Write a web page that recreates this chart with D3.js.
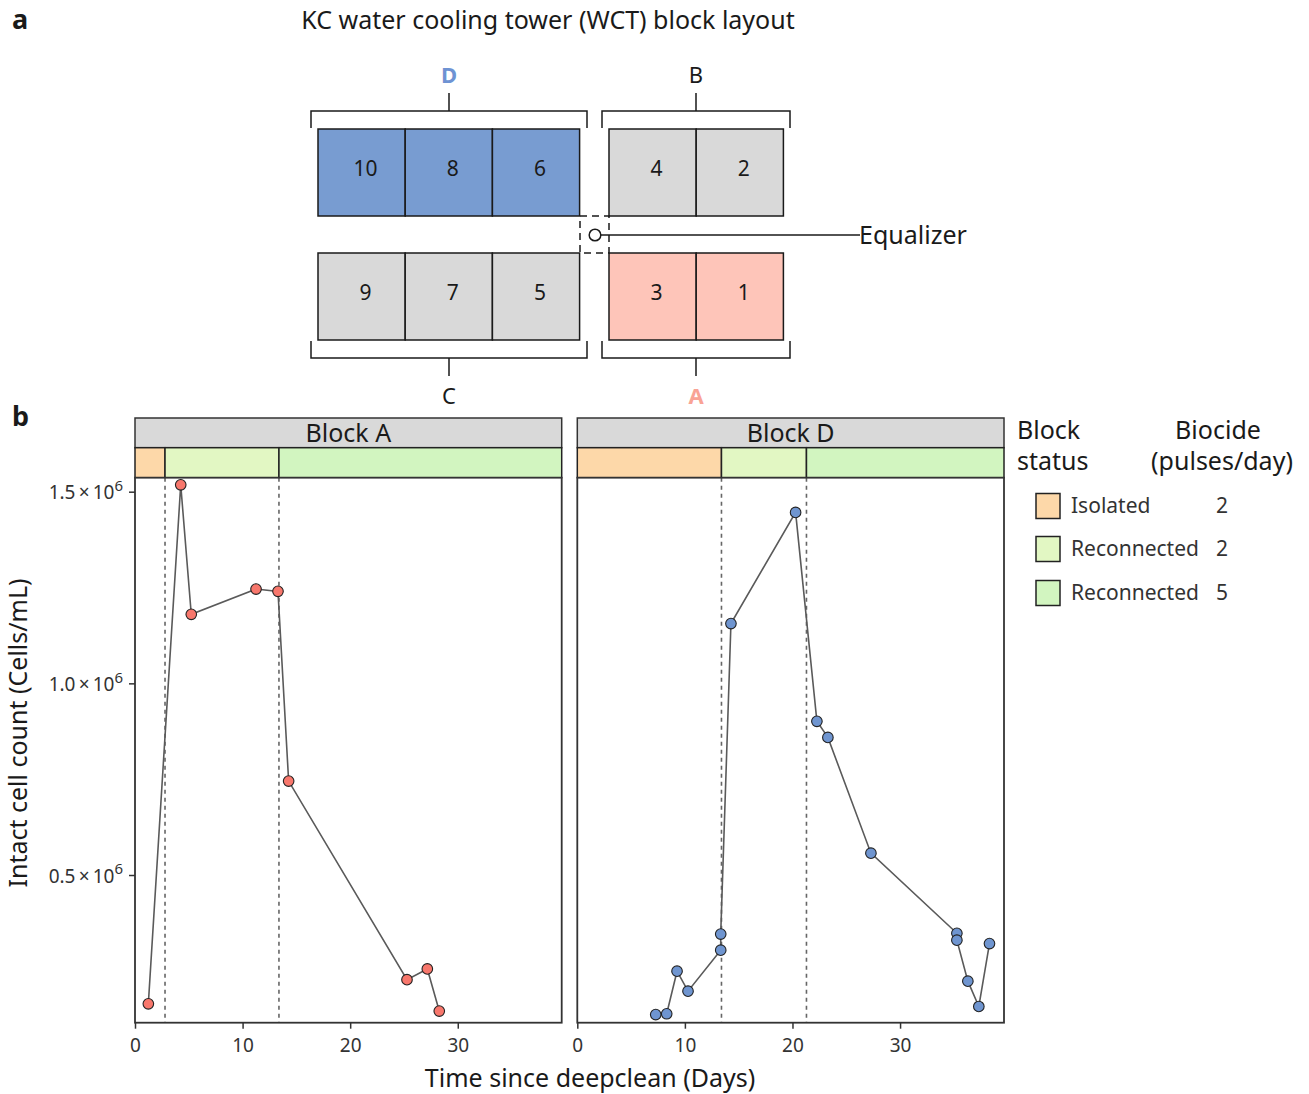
<!DOCTYPE html>
<html>
<head>
<meta charset="utf-8">
<script src="https://cdn.jsdelivr.net/npm/d3@7"></script>
<style>
  html, body { margin: 0; padding: 0; background: #fff; }
  svg { display: block; font-family: "Noto Sans", "Liberation Sans", Arial, sans-serif; }
</style>
</head>
<body>
<svg id="chart" width="1309" height="1094"></svg>
<script>
// ---------------- DATA ----------------
const topBlockD = ["10", "8", "6"];
const topBlockB = ["4", "2"];
const bottomBlockC = ["9", "7", "5"];
const bottomBlockA = ["3", "1"];

const panels = ["Block A", "Block D"];

const dayA   = [1.24, 4.25, 5.23, 11.25, 13.29, 14.28, 25.28, 27.17, 28.28];
const cellsA = [164000, 1518000, 1180000, 1246000, 1240000, 745000, 227000, 255000, 145000];

const dayD   = [7.29, 8.31, 9.27, 10.29, 13.33, 13.33, 14.28, 20.29, 22.27, 23.29, 27.29, 35.28, 35.28, 36.30, 37.32, 38.31];
const cellsD = [136000, 138000, 249000, 197000, 304000, 346000, 1156000, 1446000, 901000, 859000, 557000, 348000, 330000, 223000, 157000, 321000];

const breaksA = [2.79, 13.38];
const breaksD = [13.40, 21.30];

const statusLabels = ["Isolated", "Reconnected", "Reconnected"];
const biocidePulses = ["2", "2", "5"];
const statusColors = ["#FDD8A9", "#E2F7C3", "#D2F5C0"];

const xTicks = [0, 10, 20, 30];
const yTicks = [500000, 1000000, 1500000];
const yTickLabels = ["0.5", "1.0", "1.5"];

// ---------------- SETUP ----------------
const FONT = "'Noto Sans', 'Liberation Sans', Arial, sans-serif";
const svg = d3.select("#chart");
const ink = "#1a1a1a";

// ---------------- PART a: layout ----------------
svg.append("text").attr("x", 12).attr("y", 29).attr("font-size", 27).attr("font-weight", "bold")
  .attr("fill", ink).text("a");
svg.append("text").attr("x", 548).attr("y", 29).attr("text-anchor", "middle").attr("font-size", 25)
  .attr("fill", ink).text("KC water cooling tower (WCT) block layout");

const cellW = 87.2, cellH = 87;
function drawBlock(labels, x0, y0, fill) {
  const g = svg.append("g");
  g.selectAll("rect").data(labels).join("rect")
    .attr("x", (d, i) => x0 + i * cellW).attr("y", y0)
    .attr("width", cellW).attr("height", cellH)
    .attr("fill", fill).attr("stroke", ink).attr("stroke-width", 1.5);
  g.selectAll("text").data(labels).join("text")
    .attr("x", (d, i) => x0 + i * cellW + cellW / 2 + 4).attr("y", y0 + cellH / 2 + 3)
    .attr("text-anchor", "middle").attr("font-size", 21).attr("fill", ink).text(d => d);
}
drawBlock(topBlockD, 318, 129, "#789CD1");
drawBlock(topBlockB, 609, 129, "#D9D9D9");
drawBlock(bottomBlockC, 318, 253, "#D9D9D9");
drawBlock(bottomBlockA, 609, 253, "#FEC5B9");

function bracket(x1, x2, yLine, yEnd, yStem) {
  const xm = (x1 + x2) / 2;
  svg.append("path")
    .attr("d", `M${x1},${yEnd}V${yLine}H${x2}V${yEnd}M${xm},${yLine}V${yStem}`)
    .attr("fill", "none").attr("stroke", ink).attr("stroke-width", 1.5);
}
bracket(311, 587, 111, 128, 93);
bracket(602, 790, 111, 128, 93);
bracket(311, 587, 358, 341, 376);
bracket(602, 790, 358, 341, 376);

svg.append("text").attr("x", 449).attr("y", 83).attr("text-anchor", "middle").attr("font-size", 22)
  .attr("font-weight", "bold").attr("fill", "#6E93D3").text("D");
svg.append("text").attr("x", 696).attr("y", 83).attr("text-anchor", "middle").attr("font-size", 22)
  .attr("fill", ink).text("B");
svg.append("text").attr("x", 449).attr("y", 404).attr("text-anchor", "middle").attr("font-size", 22)
  .attr("fill", ink).text("C");
svg.append("text").attr("x", 696).attr("y", 404).attr("text-anchor", "middle").attr("font-size", 22)
  .attr("font-weight", "bold").attr("fill", "#F9A395").text("A");

// Equalizer
svg.append("rect").attr("x", 580).attr("y", 216).attr("width", 29).attr("height", 37)
  .attr("fill", "none").attr("stroke", ink).attr("stroke-width", 1.5).attr("stroke-dasharray", "7,5");
svg.append("line").attr("x1", 601).attr("x2", 860).attr("y1", 235).attr("y2", 235)
  .attr("stroke", ink).attr("stroke-width", 1.5);
svg.append("circle").attr("cx", 595).attr("cy", 235).attr("r", 5.8)
  .attr("fill", "#fff").attr("stroke", ink).attr("stroke-width", 1.5);
svg.append("text").attr("x", 859).attr("y", 244).attr("font-size", 25).attr("fill", ink).text("Equalizer");

// ---------------- PART b: chart ----------------
svg.append("text").attr("x", 12).attr("y", 426).attr("font-size", 27).attr("font-weight", "bold")
  .attr("fill", ink).text("b");

const panelW = 426.7;
const panelLefts = [135, 577.3];
const stripTop = 418, stripBot = 447.7, plotTop = 477.7, plotBot = 1022.7;

const x = d3.scaleLinear().domain([0, 39.66]).range([0, panelW]);
const y = d3.scaleLinear().domain([114700, 1536500]).range([plotBot, plotTop]);

const panelData = [
  { days: dayA, cells: cellsA, breaks: breaksA, fill: "#F8776C" },
  { days: dayD, cells: cellsD, breaks: breaksD, fill: "#6F95D0" }
];

const line = d3.line().x(d => x(d[0])).y(d => y(d[1]));

panelData.forEach((p, pi) => {
  const g = svg.append("g").attr("transform", `translate(${panelLefts[pi]},0)`);
  // strip
  g.append("rect").attr("x", 0).attr("y", stripTop).attr("width", panelW).attr("height", stripBot - stripTop)
    .attr("fill", "#D9D9D9").attr("stroke", "#333").attr("stroke-width", 1.5);
  g.append("text").attr("x", panelW / 2).attr("y", stripTop + 24).attr("text-anchor", "middle")
    .attr("font-size", 25).attr("fill", ink).text(panels[pi]);
  // status bar
  const edges = [0, ...p.breaks, x.domain()[1]];
  g.selectAll("rect.status").data(statusColors).join("rect").attr("class", "status")
    .attr("x", (d, i) => x(edges[i])).attr("y", stripBot)
    .attr("width", (d, i) => x(edges[i + 1]) - x(edges[i])).attr("height", plotTop - stripBot)
    .attr("fill", d => d).attr("stroke", "#222").attr("stroke-width", 1.5);
  // plot background
  g.append("rect").attr("x", 0).attr("y", plotTop).attr("width", panelW).attr("height", plotBot - plotTop)
    .attr("fill", "#fff");
  // dashed lines
  g.selectAll("line.brk").data(p.breaks).join("line").attr("class", "brk")
    .attr("x1", d => x(d)).attr("x2", d => x(d)).attr("y1", plotTop).attr("y2", plotBot)
    .attr("stroke", "#666").attr("stroke-width", 1.6).attr("stroke-dasharray", "4,4");
  // line
  const pts = p.days.map((d, i) => [d, p.cells[i]]);
  g.append("path").datum(pts).attr("d", line).attr("fill", "none")
    .attr("stroke", "#5a5a5a").attr("stroke-width", 1.6);
  g.selectAll("circle").data(pts).join("circle")
    .attr("cx", d => x(d[0])).attr("cy", d => y(d[1])).attr("r", 5.3)
    .attr("fill", p.fill).attr("stroke", "#222").attr("stroke-width", 1.1);
  // panel border
  g.append("rect").attr("x", 0).attr("y", plotTop).attr("width", panelW).attr("height", plotBot - plotTop)
    .attr("fill", "none").attr("stroke", "#333").attr("stroke-width", 1.8);
  // x axis
  const xa = g.append("g").attr("transform", `translate(0,${plotBot})`)
    .call(d3.axisBottom(x).tickValues(xTicks).tickSize(6).tickPadding(10).tickFormat(d3.format("d")));
  xa.attr("font-family", FONT).attr("font-size", 19);
  xa.select(".domain").remove();
  xa.selectAll("line").attr("stroke", "#333").attr("stroke-width", 1.5);
  xa.selectAll("text").attr("fill", "#333");
});

// y axis
const ya = svg.append("g").attr("transform", `translate(${panelLefts[0]},0)`)
  .call(d3.axisLeft(y).tickValues(yTicks).tickSize(6).tickPadding(6).tickFormat(() => ""));
ya.attr("font-family", FONT).attr("font-size", 19);
ya.select(".domain").remove();
ya.selectAll("line").attr("stroke", "#333").attr("stroke-width", 1.5);
ya.selectAll(".tick text").each(function (d, i) {
  const t = d3.select(this).attr("fill", "#333").attr("dy", "0.38em");
  t.append("tspan").text(yTickLabels[i] + "\u2009×\u200910");
  t.append("tspan").attr("font-size", 15).attr("dy", "-0.55em").text("6");
});

// axis titles
svg.append("text").attr("x", 590).attr("y", 1087).attr("text-anchor", "middle").attr("font-size", 25)
  .attr("fill", ink).text("Time since deepclean (Days)");
svg.append("text").attr("transform", "translate(27,733) rotate(-90)").attr("text-anchor", "middle")
  .attr("font-size", 25).attr("fill", ink).text("Intact cell count (Cells/mL)");

// legend
const lg = svg.append("g");
lg.append("text").attr("x", 1017).attr("y", 439).attr("font-size", 25).attr("fill", ink).text("Block");
lg.append("text").attr("x", 1017).attr("y", 470).attr("font-size", 25).attr("fill", ink).text("status");
lg.append("text").attr("x", 1218).attr("y", 439).attr("text-anchor", "middle").attr("font-size", 25).attr("fill", ink).text("Biocide");
lg.append("text").attr("x", 1222).attr("y", 470).attr("text-anchor", "middle").attr("font-size", 25).attr("fill", ink).text("(pulses/day)");
const rowY = [506, 549, 593];
lg.selectAll("rect").data(statusColors).join("rect")
  .attr("x", 1036).attr("y", (d, i) => rowY[i] - 12.5).attr("width", 24).attr("height", 25)
  .attr("fill", d => d).attr("stroke", "#222").attr("stroke-width", 1.5);
lg.selectAll("text.lab").data(statusLabels).join("text").attr("class", "lab")
  .attr("x", 1071).attr("y", (d, i) => rowY[i] + 7).attr("font-size", 21).attr("fill", "#333").text(d => d);
lg.selectAll("text.num").data(biocidePulses).join("text").attr("class", "num")
  .attr("x", 1222).attr("y", (d, i) => rowY[i] + 7).attr("text-anchor", "middle").attr("font-size", 21)
  .attr("fill", "#333").text(d => d);
</script>
</body>
</html>
